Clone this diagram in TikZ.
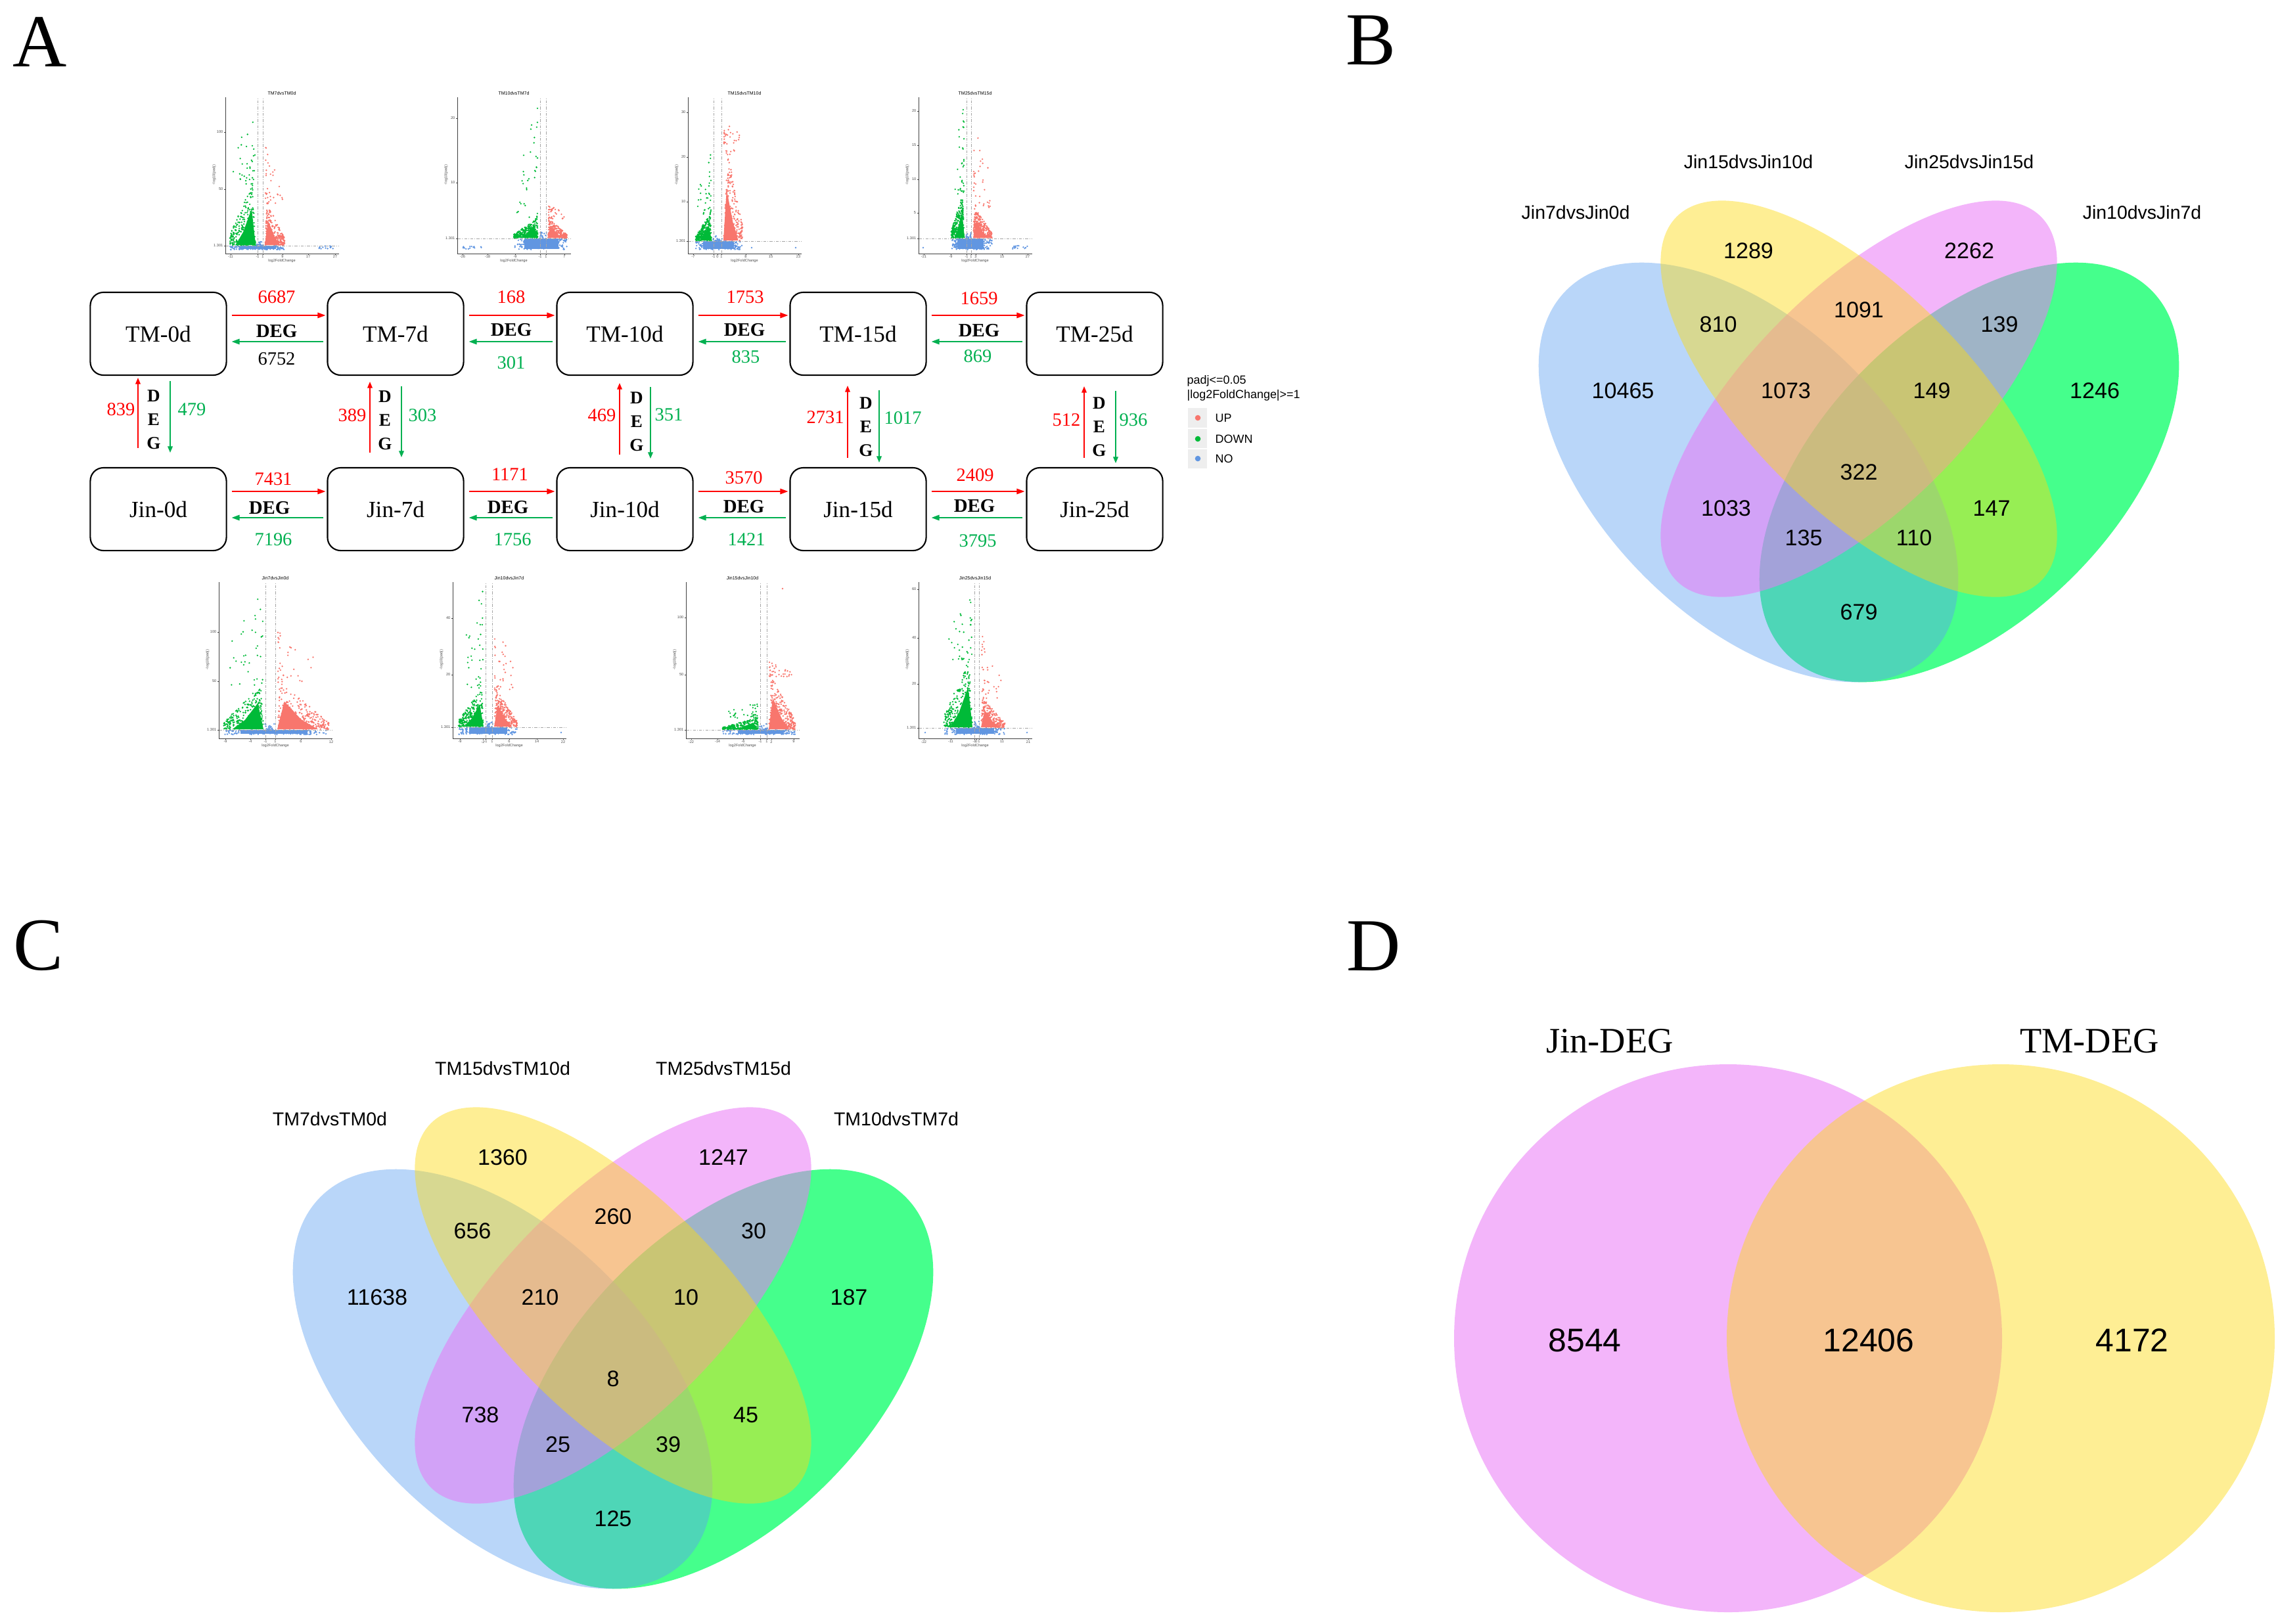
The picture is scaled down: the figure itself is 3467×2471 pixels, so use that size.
\documentclass[tikz,border=0pt]{standalone}
\usepackage{fontspec}
\setmainfont{Liberation Serif}
\setsansfont{Liberation Sans}
\usetikzlibrary{arrows.meta}

\definecolor{upred}{RGB}{255,0,0}
\definecolor{downgreen}{RGB}{0,176,80}
\definecolor{volcup}{RGB}{248,118,109}
\definecolor{volcdown}{RGB}{0,186,56}
\definecolor{volcno}{RGB}{97,150,225}
\definecolor{keygray}{RGB}{238,238,238}
\definecolor{vennblue}{RGB}{92,160,241}
\definecolor{venngreen}{RGB}{69,255,140}
\definecolor{vennpink}{RGB}{233,120,246}
\definecolor{vennyellow}{RGB}{253,218,18}

% volcano frame: title, left cut, right cut, padj line, x ticks, y ticks, id
\newcommand{\volcframe}[7]{%
  \draw[volcaxis] (0,238) -- (0,0) -- (173,0);
  \draw[volcline] (#2,1) -- (#2,238);
  \draw[volcline] (#3,1) -- (#3,238);
  \draw[volcline] (1,#4) -- (173,#4);
  \foreach \tpos/\tlab [count=\k] in {#5} {
    \draw[volcaxis] (\tpos,0) -- (\tpos,-2);
    \node[volctick] (#7x\k) at (\tpos,-5) {\tlab};
  }
  \foreach \tpos/\tlab [count=\k] in {#6} {
    \draw[volcaxis] (0,\tpos) -- (-2,\tpos);
    \node[volctick, anchor=east] (#7y\k) at (-3,\tpos) {\tlab};
  }
  \node[volctitle] (#7t) at (86,244) {#1};
  \node[volctick] (#7xl) at (86,-11) {log2FoldChange};
  \node[volctick, rotate=90] (#7yl) at (-17,120) {-log10(padj)};
}

% volcano points: left cut, right cut, padj line, DOWN width, core, top, UP width, core, top
\newcommand{\volcdots}[9]{%
  \fill[volcno] ({#1-0.6*#4},7) rectangle ({#2+0.6*#7},#3);
  \fill[volcno] \foreach \i [evaluate=\i as \vx using #1-#4+rnd*(#4+#7+#2-#1), evaluate=\i as \vy using 6+rnd*(#3-6)] in {1,...,140} {(\vx,\vy) circle (1.3)};
  \fill[volcno] \foreach \i [evaluate=\i as \vx using #1-1+rnd*(#2-#1+2), evaluate=\i as \vy using #3+rnd^2*10] in {1,...,20} {(\vx,\vy) circle (1.3)};
  % DOWN
  \fill[volcdown] ({#1-3},{#3+1}) -- ({#1-4-0.12*#4},{#3+0.6*(#5-#3)}) -- ({#1-3-0.45*#4},{#3+0.22*(#5-#3)}) -- ({#1-0.8*#4},{#3+1}) -- cycle;
  \fill[volcdown] \foreach \i [evaluate=\i as \vu using rnd^1.2, evaluate=\i as \vy using #3+1+(#5-#3)*(1-0.85*\vu)*rnd^1.2, evaluate=\i as \vx using #1-3-(#4-3)*\vu-0.05*(\vy-#3)] in {1,...,240} {(\vx,\vy) circle (1.3)};
  \fill[volcdown] \foreach \i [evaluate=\i as \vu using rnd^2, evaluate=\i as \vy using #5+(#6-#5)*rnd^1.5*(1-0.6*\vu), evaluate=\i as \vx using #1-4-0.9*(#4-4)*\vu] in {1,...,34} {(\vx,\vy) circle (1.3)};
  % UP
  \fill[volcup] ({#2+3},{#3+1}) -- ({#2+4+0.12*#7},{#3+0.6*(#8-#3)}) -- ({#2+3+0.45*#7},{#3+0.22*(#8-#3)}) -- ({#2+0.8*#7},{#3+1}) -- cycle;
  \fill[volcup] \foreach \i [evaluate=\i as \vu using rnd^1.2, evaluate=\i as \vy using #3+1+(#8-#3)*(1-0.85*\vu)*rnd^1.2, evaluate=\i as \vx using #2+3+(#7-3)*\vu+0.05*(\vy-#3)] in {1,...,240} {(\vx,\vy) circle (1.3)};
  \fill[volcup] \foreach \i [evaluate=\i as \vu using rnd^2, evaluate=\i as \vy using #8+(#9-#8)*rnd^1.5*(1-0.6*\vu), evaluate=\i as \vx using #2+4+0.9*(#7-4)*\vu] in {1,...,34} {(\vx,\vy) circle (1.3)};
}

\begin{document}
\begin{tikzpicture}[x=0.01cm, y=-0.01cm,
    panel/.style={font=\fontsize{32.4}{36}\selectfont, inner sep=0pt},
    stage/.style={draw, line width=0.6pt, rounded corners=2mm, minimum width=2.07cm, minimum height=1.26cm, inner sep=0pt, font=\fontsize{10}{12}\selectfont},
    upflow/.style={upred, line width=0.45pt, -{Triangle[length=3.4pt, width=2.4pt]}},
    downflow/.style={downgreen, line width=0.45pt, -{Triangle[length=3.4pt, width=2.4pt]}},
    vupflow/.style={upred, line width=0.3pt, -{Triangle[length=2.7pt, width=2.2pt]}},
    vdownflow/.style={downgreen, line width=0.3pt, -{Triangle[length=2.7pt, width=2.2pt]}},
    fluxnum/.style={font=\fontsize{8.1}{10}\selectfont, inner sep=0pt},
    deglab/.style={font=\bfseries\fontsize{8.2}{10}\selectfont, inner sep=0pt},
    vdeg/.style={font=\bfseries\fontsize{7.7}{10.2}\selectfont, align=center, inner sep=0pt},
    volcaxis/.style={draw=black!75, line width=0.25pt},
    volcline/.style={draw=black!35, line width=0.2pt, dash pattern=on 1.2pt off 0.6pt on 0.3pt off 0.6pt},
    volctick/.style={font=\sffamily\fontsize{1.6}{2}\selectfont, inner sep=0pt, text=black!70},
    volctitle/.style={font=\sffamily\fontsize{2}{2.4}\selectfont, inner sep=0pt},
    legtext/.style={font=\sffamily\fontsize{5.1}{6}\selectfont, inner sep=0pt, anchor=west},
    vennlab/.style={font=\sffamily\fontsize{8.1}{10}\selectfont, inner sep=0pt},
    vennnum/.style={font=\sffamily\fontsize{9.7}{11}\selectfont, inner sep=0pt},
    twolab/.style={font=\fontsize{15.5}{18}\selectfont, inner sep=0pt},
    twonum/.style={font=\sffamily\fontsize{14.2}{16}\selectfont, inner sep=0pt}]
    \useasboundingbox (0,0) rectangle (3467,2471);
    \pgfmathsetseed{11}

    % panel letters
    \node[panel] (labA) at (61,64) {A};
    \node[panel] (labB) at (2086,61) {B};
    \node[panel] (labC) at (58,1439) {C};
    \node[panel] (labD) at (2091,1440) {D};

    % stages
    \node[stage] (tm0) at (241,508) {TM-0d};
    \node[stage] (tm7) at (602,508) {TM-7d};
    \node[stage] (tm10) at (951,508) {TM-10d};
    \node[stage] (tm15) at (1306,508) {TM-15d};
    \node[stage] (tm25) at (1666,508) {TM-25d};
    \node[stage] (jin0) at (241,775) {Jin-0d};
    \node[stage] (jin7) at (602,775) {Jin-7d};
    \node[stage] (jin10) at (951,775) {Jin-10d};
    \node[stage] (jin15) at (1306,775) {Jin-15d};
    \node[stage] (jin25) at (1666,775) {Jin-25d};

    % TM row
    \draw[upflow] ([shift={(7,-28)}]tm0.east) -- ([shift={(-2,-28)}]tm7.west);
    \draw[downflow] ([shift={(-5,12)}]tm7.west) -- ([shift={(7,12)}]tm0.east);
    \draw[upflow] ([shift={(7,-28)}]tm7.east) -- ([shift={(-2,-28)}]tm10.west);
    \draw[downflow] ([shift={(-5,12)}]tm10.west) -- ([shift={(7,12)}]tm7.east);
    \draw[upflow] ([shift={(7,-28)}]tm10.east) -- ([shift={(-2,-28)}]tm15.west);
    \draw[downflow] ([shift={(-5,12)}]tm15.west) -- ([shift={(7,12)}]tm10.east);
    \draw[upflow] ([shift={(7,-28)}]tm15.east) -- ([shift={(-2,-28)}]tm25.west);
    \draw[downflow] ([shift={(-5,12)}]tm25.west) -- ([shift={(7,12)}]tm15.east);
    \node[fluxnum, upred] (tu1) at (421,452) {6687};
    \node[deglab] (td1) at (421,504) {DEG};
    \node[fluxnum] (tg1) at (421,546) {6752};
    \node[fluxnum, upred] (tu2) at (778,452) {168};
    \node[deglab] (td2) at (778,502) {DEG};
    \node[fluxnum, downgreen] (tg2) at (778,552) {301};
    \node[fluxnum, upred] (tu3) at (1134,452) {1753};
    \node[deglab] (td3) at (1133,502) {DEG};
    \node[fluxnum, downgreen] (tg3) at (1135,543) {835};
    \node[fluxnum, upred] (tu4) at (1490,454) {1659};
    \node[deglab] (td4) at (1490,503) {DEG};
    \node[fluxnum, downgreen] (tg4) at (1488,542) {869};

    % Jin row
    \draw[upflow] ([shift={(7,-27)}]jin0.east) -- ([shift={(-2,-27)}]jin7.west);
    \draw[downflow] ([shift={(-5,13)}]jin7.west) -- ([shift={(7,13)}]jin0.east);
    \draw[upflow] ([shift={(7,-27)}]jin7.east) -- ([shift={(-2,-27)}]jin10.west);
    \draw[downflow] ([shift={(-5,13)}]jin10.west) -- ([shift={(7,13)}]jin7.east);
    \draw[upflow] ([shift={(7,-27)}]jin10.east) -- ([shift={(-2,-27)}]jin15.west);
    \draw[downflow] ([shift={(-5,13)}]jin15.west) -- ([shift={(7,13)}]jin10.east);
    \draw[upflow] ([shift={(7,-27)}]jin15.east) -- ([shift={(-2,-27)}]jin25.west);
    \draw[downflow] ([shift={(-5,13)}]jin25.west) -- ([shift={(7,13)}]jin15.east);
    \node[fluxnum, upred] (ju1) at (416,729) {7431};
    \node[deglab] (jd1) at (410,773) {DEG};
    \node[fluxnum, downgreen] (jg1) at (416,821) {7196};
    \node[fluxnum, upred] (ju2) at (776,722) {1171};
    \node[deglab] (jd2) at (773,772) {DEG};
    \node[fluxnum, downgreen] (jg2) at (780,821) {1756};
    \node[fluxnum, upred] (ju3) at (1132,727) {3570};
    \node[deglab] (jd3) at (1132,771) {DEG};
    \node[fluxnum, downgreen] (jg3) at (1136,821) {1421};
    \node[fluxnum, upred] (ju4) at (1484,723) {2409};
    \node[deglab] (jd4) at (1483,770) {DEG};
    \node[fluxnum, downgreen] (jg4) at (1488,823) {3795};

    % TM vs Jin
    \draw[vupflow] ([shift={(-31,-29)}]jin0.north) -- ([shift={(-31,3)}]tm0.south);
    \draw[vdownflow] ([shift={(18,8)}]tm0.south) -- ([shift={(18,-22)}]jin0.north);
    \draw[vupflow] ([shift={(-39,-22)}]jin7.north) -- ([shift={(-39,9)}]tm7.south);
    \draw[vdownflow] ([shift={(9,16)}]tm7.south) -- ([shift={(9,-15)}]jin7.north);
    \draw[vupflow] ([shift={(-8,-19)}]jin10.north) -- ([shift={(-8,11)}]tm10.south);
    \draw[vdownflow] ([shift={(39,17)}]tm10.south) -- ([shift={(39,-13)}]jin10.north);
    \draw[vupflow] ([shift={(-16,-14)}]jin15.north) -- ([shift={(-16,15)}]tm15.south);
    \draw[vdownflow] ([shift={(32,22)}]tm15.south) -- ([shift={(32,-7)}]jin15.north);
    \draw[vupflow] ([shift={(-16,-14)}]jin25.north) -- ([shift={(-16,16)}]tm25.south);
    \draw[vdownflow] ([shift={(32,23)}]tm25.south) -- ([shift={(32,-6)}]jin25.north);
    \node[vdeg] (vd1) at (234,639) {D\\E\\G};
    \node[vdeg] (vd2) at (586,640) {D\\E\\G};
    \node[vdeg] (vd3) at (969,642) {D\\E\\G};
    \node[vdeg] (vd4) at (1318,650) {D\\E\\G};
    \node[vdeg] (vd5) at (1673,650) {D\\E\\G};
    \node[fluxnum, upred] (vu1) at (184,623) {839};
    \node[fluxnum, downgreen] (vg1) at (292,623) {479};
    \node[fluxnum, upred] (vu2) at (536,632) {389};
    \node[fluxnum, downgreen] (vg2) at (643,632) {303};
    \node[fluxnum, upred] (vu3) at (916,632) {469};
    \node[fluxnum, downgreen] (vg3) at (1018,631) {351};
    \node[fluxnum, upred] (vu4) at (1256,635) {2731};
    \node[fluxnum, downgreen] (vg4) at (1374,636) {1017};
    \node[fluxnum, upred] (vu5) at (1623,639) {512};
    \node[fluxnum, downgreen] (vg5) at (1725,639) {936};

    % volcano plots, TM
    \begin{scope}[shift={(343,386)}, yscale=-1]
        \volcdots{49}{57}{12}{42}{106}{226}{33}{76}{175}
        \fill[volcno] \foreach \i in {1,...,14} {({142+rnd*25},{7+rnd*5}) circle (1.3)};
        \volcframe{TM7dvsTM0d}{49}{57}{12}{8/-11,49/-1,57/1,87/9,126/17,167/27}{185/100,98/50,12/1.301}{ta}
    \end{scope}
    \begin{scope}[shift={(696,386)}, yscale=-1]
        \volcdots{126}{135}{23}{40}{55}{227}{32}{53}{76}
        \fill[volcno] \foreach \i in {1,...,14} {({7+rnd*30},{7+rnd*5}) circle (1.3)};
        \volcframe{TM10dvsTM7d}{126}{135}{23}{8/-26,46/-18,88/-9,126/-1,135/1,163/7}{206/20,108/10,23/1.301}{tb}
    \end{scope}
    \begin{scope}[shift={(1047,386)}, yscale=-1]
        \volcdots{39}{51}{19}{27}{60}{153}{32}{150}{226}
        \fill[volcno] (97,9) circle (1.3) (164,9) circle (1.3);
        \volcframe{TM15dvsTM10d}{39}{51}{19}{8/-7,39/-1,45/0,51/1,88/8,126/15,168/23}{215/30,147/20,79/10,19/1.301}{tc}
    \end{scope}
    \begin{scope}[shift={(1398,386)}, yscale=-1]
        \volcdots{73}{80}{23}{23}{90}{227}{32}{69}{201}
        \fill[volcno] \foreach \i in {1,...,14} {({143+rnd*25},{7+rnd*5}) circle (1.3)};
        \fill[volcno] (7,9) circle (1.3);
        \volcframe{TM25dvsTM15d}{73}{80}{23}{8/-21,49/-9,73/-1,80/1,87/3,127/15,166/27}{217/20,165/15,113/10,62/5,23/1.301}{td}
    \end{scope}

    % volcano plots, Jin
    \begin{scope}[shift={(333,1124)}, yscale=-1]
        \volcdots{71}{86}{13}{63}{81}{228}{81}{85}{163}
        \volcframe{Jin7dvsJin0d}{71}{86}{13}{10/-9,48/-4,71/-1,86/1,125/6,171/12}{162/100,87/50,13/1.301}{ba}
    \end{scope}
    \begin{scope}[shift={(689,1124)}, yscale=-1]
        \volcdots{50}{60}{17}{41}{75}{228}{38}{74}{174}
        \fill[volcno] (165,9) circle (1.3);
        \volcframe{Jin10dvsJin7d}{50}{60}{17}{11/-9,46/-2,50/-1,60/1,86/6,128/14,168/22}{183/40,97/20,17/1.301}{bb}
    \end{scope}
    \begin{scope}[shift={(1044,1124)}, yscale=-1]
        \volcdots{113}{123}{13}{57}{31}{56}{43}{94}{116}
        \fill[volcup] (147,228) circle (1.3);
        \volcframe{Jin15dvsJin10d}{113}{123}{13}{8/-22,48/-14,87/-6,113/-1,123/1,130/2,164/9}{184/100,97/50,13/1.301}{bc}
    \end{scope}
    \begin{scope}[shift={(1398,1124)}, yscale=-1]
        \volcdots{85}{92}{16}{46}{120}{228}{39}{61}{164}
        \fill[volcno] (10,9) circle (1.3) (165,9) circle (1.3);
        \volcframe{Jin25dvsJin15d}{85}{92}{16}{8/-22,49/-11,85/-1,88/0,92/1,127/11,167/21}{227/60,153/40,83/20,16/1.301}{bd}
    \end{scope}

    % legend
    \node[legtext] (leg1) at (1806,580) {padj<=0.05};
    \node[legtext] (leg2) at (1806,602) {|log2FoldChange|>=1};
    \fill[keygray] (1808,621) rectangle (1837,651);
    \fill[keygray] (1808,653) rectangle (1837,682);
    \fill[keygray] (1808,684) rectangle (1837,713);
    \fill[volcup] (1823,636) circle (4.3);
    \fill[volcdown] (1823,668) circle (4.3);
    \fill[volcno] (1823,698) circle (4.3);
    \node[legtext] (legu) at (1849,636) {UP};
    \node[legtext] (legd) at (1849,668) {DOWN};
    \node[legtext] (legn) at (1849,698) {NO};

    % B: Jin comparisons
    \begin{scope}[shift={(2829,719)}]
        \fill[venngreen] (168,0) circle [x radius=392, y radius=224, rotate=45];
        \fill[vennblue, fill opacity=0.43] (-168,0) circle [x radius=392, y radius=224, rotate=-45];
        \fill[vennpink, fill opacity=0.55] (0,-112) circle [x radius=392, y radius=168, rotate=45];
        \fill[vennyellow, fill opacity=0.45] (0,-112) circle [x radius=392, y radius=168, rotate=-45];
        \node[vennlab] (bl1) at (-431,-396) {Jin7dvsJin0d};
        \node[vennlab] (bl2) at (-168,-473) {Jin15dvsJin10d};
        \node[vennlab] (bl3) at (168,-473) {Jin25dvsJin15d};
        \node[vennlab] (bl4) at (431,-396) {Jin10dvsJin7d};
        \node[vennnum] (b1289) at (-168,-337) {1289};
        \node[vennnum] (b2262) at (168,-337) {2262};
        \node[vennnum] (b810) at (-214,-225) {810};
        \node[vennnum] (b1091) at (0,-247) {1091};
        \node[vennnum] (b139) at (214,-225) {139};
        \node[vennnum] (b10465) at (-359,-124) {10465};
        \node[vennnum] (b1073) at (-111,-124) {1073};
        \node[vennnum] (b149) at (111,-124) {149};
        \node[vennnum] (b1246) at (359,-124) {1246};
        \node[vennnum] (b322) at (0,0) {322};
        \node[vennnum] (b1033) at (-202,55) {1033};
        \node[vennnum] (b147) at (202,55) {147};
        \node[vennnum] (b135) at (-84,100) {135};
        \node[vennnum] (b110) at (84,100) {110};
        \node[vennnum] (b679) at (0,213) {679};
    \end{scope}

    % C: TM comparisons
    \begin{scope}[shift={(933,2099)}]
        \fill[venngreen] (168,0) circle [x radius=392, y radius=224, rotate=45];
        \fill[vennblue, fill opacity=0.43] (-168,0) circle [x radius=392, y radius=224, rotate=-45];
        \fill[vennpink, fill opacity=0.55] (0,-112) circle [x radius=392, y radius=168, rotate=45];
        \fill[vennyellow, fill opacity=0.45] (0,-112) circle [x radius=392, y radius=168, rotate=-45];
        \node[vennlab] (cl1) at (-431,-396) {TM7dvsTM0d};
        \node[vennlab] (cl2) at (-168,-473) {TM15dvsTM10d};
        \node[vennlab] (cl3) at (168,-473) {TM25dvsTM15d};
        \node[vennlab] (cl4) at (431,-396) {TM10dvsTM7d};
        \node[vennnum] (c1360) at (-168,-337) {1360};
        \node[vennnum] (c1247) at (168,-337) {1247};
        \node[vennnum] (c656) at (-214,-225) {656};
        \node[vennnum] (c260) at (0,-247) {260};
        \node[vennnum] (c30) at (214,-225) {30};
        \node[vennnum] (c11638) at (-359,-124) {11638};
        \node[vennnum] (c210) at (-111,-124) {210};
        \node[vennnum] (c10) at (111,-124) {10};
        \node[vennnum] (c187) at (359,-124) {187};
        \node[vennnum] (c8) at (0,0) {8};
        \node[vennnum] (c738) at (-202,55) {738};
        \node[vennnum] (c45) at (202,55) {45};
        \node[vennnum] (c25) at (-84,100) {25};
        \node[vennnum] (c39) at (84,100) {39};
        \node[vennnum] (c125) at (0,213) {125};
    \end{scope}

    % D: Jin vs TM
    \fill[vennpink, fill opacity=0.55] (2630,2037) circle (417);
    \fill[vennyellow, fill opacity=0.45] (3045,2037) circle (417);
    \node[twolab] (dljin) at (2450,1585) {Jin-DEG};
    \node[twolab] (dltm) at (3180,1585) {TM-DEG};
    \node[twonum] (d8544) at (2412,2040) {8544};
    \node[twonum] (d12406) at (2844,2040) {12406};
    \node[twonum] (d4172) at (3245,2040) {4172};
\end{tikzpicture}
\end{document}
